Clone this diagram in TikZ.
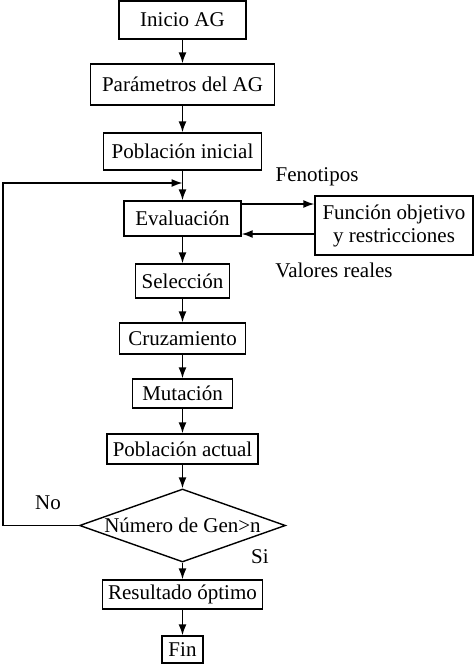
\documentclass[tikz,border=0pt]{standalone}
\usepackage{fontspec}
\setmainfont{Liberation Serif}
\usetikzlibrary{arrows.meta,shapes.geometric}
\begin{document}
\begin{tikzpicture}[x=1pt,y=-1pt,
  box/.style={draw,line width=1.4pt,inner sep=0pt,align=center,font=\fontsize{21}{23}\selectfont},
  lbl/.style={inner sep=0pt,font=\fontsize{21}{23}\selectfont},
  arr/.style={line width=1.4pt,-{Latex[length=11pt,width=8pt]}},
  ln/.style={line width=1.4pt}]
\useasboundingbox (0,0) rectangle (474,665);
\node[box,minimum width=127pt,minimum height=38pt] (inicio) at (182.5,20) {Inicio AG};
\node[box,minimum width=184pt,minimum height=41pt] (param) at (182.5,84.5) {Parámetros del AG};
\node[box,minimum width=158pt,minimum height=37pt] (pobini) at (182.5,151.5) {Población inicial};
\node[box,minimum width=117pt,minimum height=35pt] (eval) at (182.5,218.5) {Evaluación};
\node[box,minimum width=158pt,minimum height=59pt] (func) at (394,225.5) {Función objetivo\\y restricciones};
\node[box,minimum width=94pt,minimum height=34pt] (sel) at (182.5,281) {Selección};
\node[box,minimum width=126pt,minimum height=31pt] (cruz) at (182.5,338.5) {Cruzamiento};
\node[box,minimum width=100pt,minimum height=29pt] (mut) at (182.5,393.5) {Mutación};
\node[box,minimum width=151pt,minimum height=30pt] (pobact) at (182.5,449) {Población actual};
\node[box,shape=diamond,aspect=2.8,minimum width=206pt,minimum height=73pt] (dia) at (182.5,525.5) {Número de Gen>n};
\node[box,minimum width=160pt,minimum height=29pt] (res) at (182.5,594.5) {Resultado óptimo};
\node[box,minimum width=41pt,minimum height=27pt] (fin) at (182.5,649.5) {Fin};
\node[lbl] (feno) at (317,177) {Fenotipos};
\node[lbl] (valr) at (334,270) {Valores reales};
\node[lbl] (no) at (48,503) {No};
\node[lbl] (si) at (260,557) {Si};
\coordinate (loopin) at (182.5,183);
\coordinate (loopl) at (3,525.5);
\draw[arr] (inicio) -- (param);
\draw[arr] (param) -- (pobini);
\draw[arr] (pobini) -- (eval);
\draw[arr] ([yshift=14.5pt]eval.east) -- ([yshift=14.5pt]eval.east -| func.west);
\draw[arr] ([yshift=-15.5pt]eval.east -| func.west) -- ([yshift=-15.5pt]eval.east);
\draw[arr] (eval) -- (sel);
\draw[arr] (sel) -- (cruz);
\draw[arr] (cruz) -- (mut);
\draw[arr] (mut) -- (pobact);
\draw[arr] (pobact) -- (dia);
\draw[arr] (dia) -- (res);
\draw[arr] (res) -- (fin);
\draw[arr] (dia.west) -- (loopl) |- (loopin);
\end{tikzpicture}
\end{document}
